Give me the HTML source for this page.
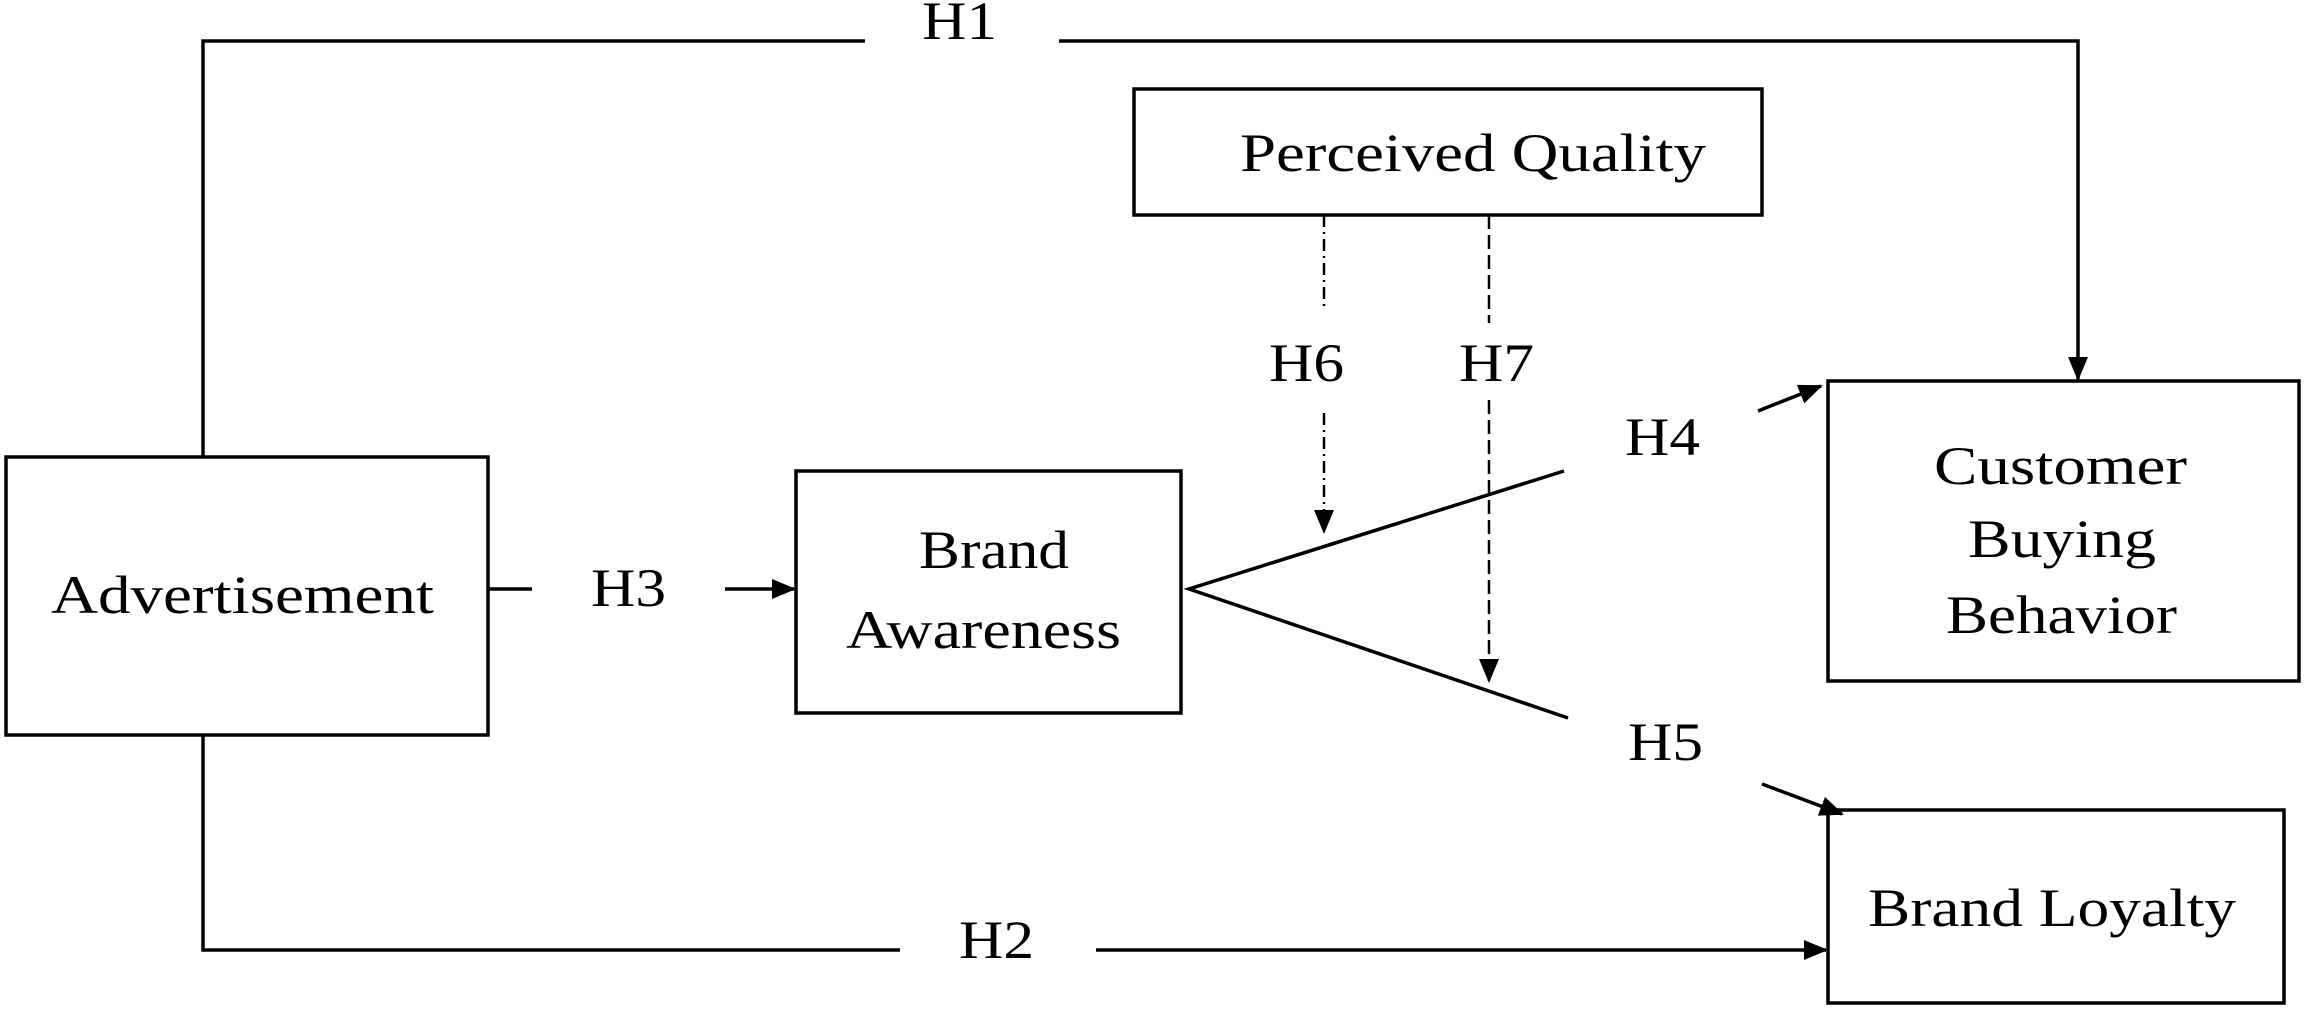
<!DOCTYPE html>
<html><head><meta charset="utf-8"><style>html,body{margin:0;padding:0;background:#fff}svg{display:block}</style></head>
<body>
<svg width="2304" height="1010" viewBox="0 0 2304 1010" xmlns="http://www.w3.org/2000/svg">
<defs>
<marker id="b" markerWidth="24" markerHeight="24" refX="22" refY="12" orient="auto" markerUnits="userSpaceOnUse" viewBox="0 0 24 24">
<path d="M0,2 L24,12 L0,22 z" fill="#000"/></marker>
</defs>
<g fill="none" stroke="#000" stroke-width="3.5">
<rect x="6" y="457" width="482" height="278"/>
<rect x="796" y="471" width="385" height="242"/>
<rect x="1134" y="89" width="628" height="126"/>
<rect x="1828" y="381" width="471" height="300"/>
<rect x="1828" y="810" width="456" height="193"/>
<polyline points="203,457 203,41 865,41"/>
<polyline points="1059,41 2078,41 2078,379" marker-end="url(#b)"/>
<polyline points="203,735 203,950 900,950"/>
<line x1="1096" y1="950" x2="1826" y2="950" marker-end="url(#b)"/>
<line x1="488" y1="589" x2="532" y2="589"/>
<line x1="725" y1="589" x2="794" y2="589" marker-end="url(#b)"/>
<polyline points="1564,471 1189,589 1568,718"/>
<line x1="1758" y1="411" x2="1821" y2="386" marker-end="url(#b)"/>
<line x1="1762" y1="784" x2="1842" y2="814" marker-end="url(#b)"/>
<line x1="1324" y1="215" x2="1324" y2="310" stroke-width="2.5" stroke-dasharray="12,5,2,5"/>
<line x1="1324" y1="413" x2="1324" y2="532" stroke-width="2.5" stroke-dasharray="12,5,2,5" marker-end="url(#b)"/>
<line x1="1489" y1="215" x2="1489" y2="323" stroke-width="2.5" stroke-dasharray="14,6"/>
<line x1="1489" y1="400" x2="1489" y2="681" stroke-width="2.5" stroke-dasharray="14,6" marker-end="url(#b)"/>
</g>
<g font-family="Liberation Serif, serif" font-size="54" fill="#000">
<text x="51" y="613" textLength="383" lengthAdjust="spacingAndGlyphs">Advertisement</text>
<text x="919" y="568" textLength="150" lengthAdjust="spacingAndGlyphs">Brand</text>
<text x="846" y="648" textLength="275" lengthAdjust="spacingAndGlyphs">Awareness</text>
<text x="1240" y="171" textLength="466" lengthAdjust="spacingAndGlyphs">Perceived Quality</text>
<text x="1934" y="484" textLength="253" lengthAdjust="spacingAndGlyphs">Customer</text>
<text x="1968" y="557" textLength="188" lengthAdjust="spacingAndGlyphs">Buying</text>
<text x="1946" y="633" textLength="231" lengthAdjust="spacingAndGlyphs">Behavior</text>
<text x="1868" y="926" textLength="368" lengthAdjust="spacingAndGlyphs">Brand Loyalty</text>
<text x="922" y="39" textLength="75" lengthAdjust="spacingAndGlyphs">H1</text>
<text x="959" y="958" textLength="75" lengthAdjust="spacingAndGlyphs">H2</text>
<text x="591" y="606" textLength="75" lengthAdjust="spacingAndGlyphs">H3</text>
<text x="1625" y="455" textLength="75" lengthAdjust="spacingAndGlyphs">H4</text>
<text x="1628" y="760" textLength="75" lengthAdjust="spacingAndGlyphs">H5</text>
<text x="1269" y="381" textLength="75" lengthAdjust="spacingAndGlyphs">H6</text>
<text x="1459" y="381" textLength="75" lengthAdjust="spacingAndGlyphs">H7</text>
</g>
</svg>
</body></html>
